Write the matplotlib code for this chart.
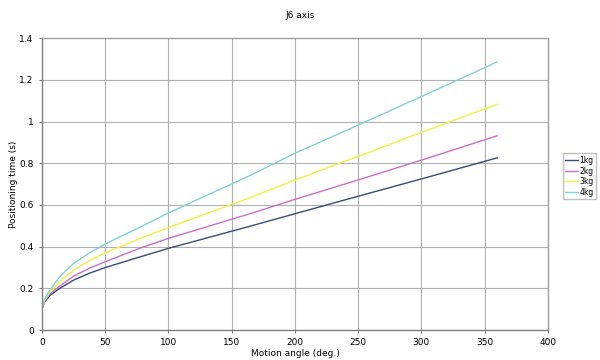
import matplotlib.pyplot as plt

angle = [0, 2, 6, 14, 25, 38, 50, 78, 100, 165, 200, 250, 300, 360]
t_1kg = [0.104, 0.135, 0.165, 0.200, 0.240, 0.274, 0.300, 0.352, 0.392, 0.499, 0.558, 0.642, 0.725, 0.826]
t_2kg = [0.104, 0.138, 0.172, 0.211, 0.259, 0.298, 0.328, 0.394, 0.440, 0.559, 0.627, 0.720, 0.815, 0.932]
t_3kg = [0.104, 0.142, 0.180, 0.232, 0.288, 0.335, 0.370, 0.441, 0.492, 0.636, 0.720, 0.833, 0.948, 1.083]
t_4kg = [0.104, 0.147, 0.190, 0.256, 0.320, 0.372, 0.413, 0.495, 0.562, 0.743, 0.848, 0.983, 1.120, 1.286]
labels = ['1kg', '2kg', '3kg', '4kg']
colors = ['#3a4a7c', '#c86ec8', '#f2f040', '#7fd0de']

fig = plt.figure(figsize=(6, 3.6), dpi=100)
ax = fig.add_axes([0.07, 0.083, 0.843, 0.811])

for y, lab, c in zip([t_1kg, t_2kg, t_3kg, t_4kg], labels, colors):
    ax.plot(angle, y, color=c, lw=1.0, label=lab)

ax.set_xlim(0, 400)
ax.set_ylim(0, 1.4)
ax.set_xticks(range(0, 401, 50))
ax.set_yticks([0, 0.2, 0.4, 0.6, 0.8, 1.0, 1.2, 1.4])
ax.set_yticklabels(['0', '0.2', '0.4', '0.6', '0.8', '1', '1.2', '1.4'])
ax.grid(True, color='#b0b0b0', lw=0.8)
ax.set_axisbelow(True)
for s in ax.spines.values():
    s.set_color('#a0a0a0')
    s.set_linewidth(1.0)
ax.spines['left'].set_color('#808080')
ax.spines['bottom'].set_color('#808080')
ax.tick_params(labelsize=6.5, length=2, color='#808080', pad=4)

fig.text(0.5, 0.958, 'J6 axis', ha='center', va='center', fontsize=6.5)
ax.set_xlabel('Motion angle (deg.)', fontsize=6.5, labelpad=1)
ax.set_ylabel('Positioning time (s)', fontsize=6.5, labelpad=1)

fig.legend(loc='center left', bbox_to_anchor=(0.938, 0.51), fontsize=5.5,
           frameon=True, fancybox=False, edgecolor='#b0b0b0',
           handlelength=1.6, handletextpad=0.2, borderpad=0.35,
           labelspacing=0.2, borderaxespad=0)

fig.savefig('out.png', dpi=100)
